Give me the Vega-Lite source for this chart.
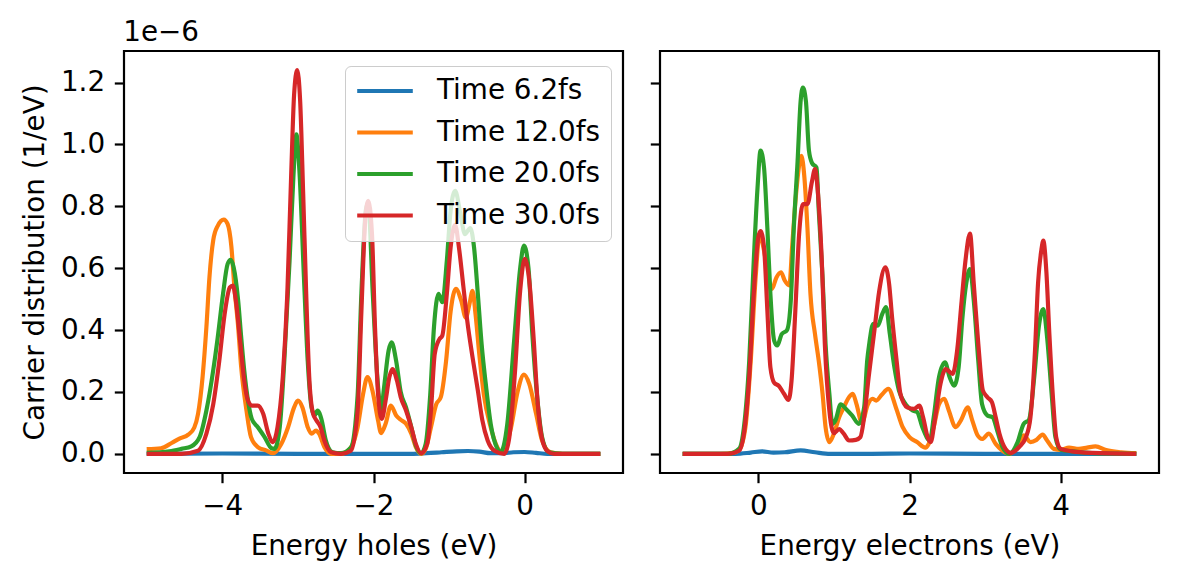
{
  "$schema": "https://vega.github.io/schema/vega-lite/v6.json",
  "background": "white",
  "padding": {"left": 20, "top": 19, "right": 0, "bottom": 0},
  "title": {"text": "1e−6", "anchor": "start", "frame": "bounds", "dx": 103, "offset": 3, "fontSize": 27.8, "fontWeight": "normal", "font": "DejaVu Sans", "color": "black"},
  "config": {
    "font": "DejaVu Sans",
    "view": {"stroke": "black", "strokeWidth": 2.2},
    "axis": {"domain": false, "grid": false, "tickColor": "black", "tickWidth": 2.2, "tickSize": 9.7, "labelFontSize": 27.8, "labelColor": "black", "labelPadding": 9.7, "titleFontSize": 27.8, "titleFontWeight": "normal", "titleColor": "black", "labelFont": "DejaVu Sans", "titleFont": "DejaVu Sans"},
    "legend": {"labelFont": "DejaVu Sans"}
  },
  "datasets": {
    "holes": [
      {"s":"Time 6.2fs","e":-5.0,"v":0.0},{"s":"Time 6.2fs","e":-4.0,"v":0.001},{"s":"Time 6.2fs","e":-3.0,"v":0.0},{"s":"Time 6.2fs","e":-2.0,"v":0.0},{"s":"Time 6.2fs","e":-1.5,"v":0.0},{"s":"Time 6.2fs","e":-1.3,"v":0.002},{"s":"Time 6.2fs","e":-1.1,"v":0.005},{"s":"Time 6.2fs","e":-0.9,"v":0.008},{"s":"Time 6.2fs","e":-0.75,"v":0.009},{"s":"Time 6.2fs","e":-0.6,"v":0.007},{"s":"Time 6.2fs","e":-0.45,"v":0.002},{"s":"Time 6.2fs","e":-0.3,"v":0.002},{"s":"Time 6.2fs","e":-0.15,"v":0.005},{"s":"Time 6.2fs","e":0.0,"v":0.006},{"s":"Time 6.2fs","e":0.15,"v":0.003},{"s":"Time 6.2fs","e":0.3,"v":0.0},{"s":"Time 6.2fs","e":1.0,"v":0.0},

      {"s":"Time 12.0fs","e":-5.0,"v":0.015},{"s":"Time 12.0fs","e":-4.81,"v":0.018},{"s":"Time 12.0fs","e":-4.67,"v":0.035},{"s":"Time 12.0fs","e":-4.56,"v":0.05},{"s":"Time 12.0fs","e":-4.45,"v":0.062},{"s":"Time 12.0fs","e":-4.37,"v":0.085},{"s":"Time 12.0fs","e":-4.32,"v":0.13},{"s":"Time 12.0fs","e":-4.26,"v":0.25},{"s":"Time 12.0fs","e":-4.21,"v":0.41},{"s":"Time 12.0fs","e":-4.17,"v":0.57},{"s":"Time 12.0fs","e":-4.12,"v":0.69},{"s":"Time 12.0fs","e":-4.06,"v":0.737},{"s":"Time 12.0fs","e":-3.98,"v":0.757},{"s":"Time 12.0fs","e":-3.93,"v":0.743},{"s":"Time 12.0fs","e":-3.88,"v":0.67},{"s":"Time 12.0fs","e":-3.84,"v":0.54},{"s":"Time 12.0fs","e":-3.79,"v":0.41},{"s":"Time 12.0fs","e":-3.75,"v":0.28},{"s":"Time 12.0fs","e":-3.68,"v":0.14},{"s":"Time 12.0fs","e":-3.62,"v":0.054},{"s":"Time 12.0fs","e":-3.53,"v":0.022},{"s":"Time 12.0fs","e":-3.42,"v":0.011},{"s":"Time 12.0fs","e":-3.33,"v":0.002},{"s":"Time 12.0fs","e":-3.22,"v":0.032},{"s":"Time 12.0fs","e":-3.13,"v":0.086},{"s":"Time 12.0fs","e":-3.05,"v":0.15},{"s":"Time 12.0fs","e":-3.0,"v":0.172},{"s":"Time 12.0fs","e":-2.94,"v":0.15},{"s":"Time 12.0fs","e":-2.87,"v":0.086},{"s":"Time 12.0fs","e":-2.82,"v":0.065},{"s":"Time 12.0fs","e":-2.76,"v":0.075},{"s":"Time 12.0fs","e":-2.72,"v":0.065},{"s":"Time 12.0fs","e":-2.65,"v":0.022},{"s":"Time 12.0fs","e":-2.56,"v":0.0},{"s":"Time 12.0fs","e":-2.43,"v":0.0},{"s":"Time 12.0fs","e":-2.3,"v":0.02},{"s":"Time 12.0fs","e":-2.21,"v":0.086},{"s":"Time 12.0fs","e":-2.14,"v":0.19},{"s":"Time 12.0fs","e":-2.08,"v":0.248},{"s":"Time 12.0fs","e":-2.01,"v":0.2},{"s":"Time 12.0fs","e":-1.94,"v":0.108},{"s":"Time 12.0fs","e":-1.9,"v":0.067},{"s":"Time 12.0fs","e":-1.84,"v":0.097},{"s":"Time 12.0fs","e":-1.77,"v":0.156},{"s":"Time 12.0fs","e":-1.7,"v":0.124},{"s":"Time 12.0fs","e":-1.64,"v":0.11},{"s":"Time 12.0fs","e":-1.57,"v":0.097},{"s":"Time 12.0fs","e":-1.5,"v":0.065},{"s":"Time 12.0fs","e":-1.44,"v":0.022},{"s":"Time 12.0fs","e":-1.37,"v":0.0},{"s":"Time 12.0fs","e":-1.31,"v":0.016},{"s":"Time 12.0fs","e":-1.24,"v":0.086},{"s":"Time 12.0fs","e":-1.17,"v":0.16},{"s":"Time 12.0fs","e":-1.11,"v":0.183},{"s":"Time 12.0fs","e":-1.04,"v":0.3},{"s":"Time 12.0fs","e":-0.98,"v":0.46},{"s":"Time 12.0fs","e":-0.91,"v":0.533},{"s":"Time 12.0fs","e":-0.84,"v":0.495},{"s":"Time 12.0fs","e":-0.78,"v":0.44},{"s":"Time 12.0fs","e":-0.73,"v":0.485},{"s":"Time 12.0fs","e":-0.69,"v":0.527},{"s":"Time 12.0fs","e":-0.65,"v":0.45},{"s":"Time 12.0fs","e":-0.6,"v":0.32},{"s":"Time 12.0fs","e":-0.54,"v":0.19},{"s":"Time 12.0fs","e":-0.45,"v":0.086},{"s":"Time 12.0fs","e":-0.36,"v":0.02},{"s":"Time 12.0fs","e":-0.3,"v":0.003},{"s":"Time 12.0fs","e":-0.18,"v":0.086},{"s":"Time 12.0fs","e":-0.095,"v":0.2},{"s":"Time 12.0fs","e":-0.01,"v":0.256},{"s":"Time 12.0fs","e":0.06,"v":0.226},{"s":"Time 12.0fs","e":0.15,"v":0.13},{"s":"Time 12.0fs","e":0.23,"v":0.043},{"s":"Time 12.0fs","e":0.34,"v":0.005},{"s":"Time 12.0fs","e":0.5,"v":0.0},{"s":"Time 12.0fs","e":1.0,"v":0.0},

      {"s":"Time 20.0fs","e":-5.0,"v":0.003},{"s":"Time 20.0fs","e":-4.7,"v":0.008},{"s":"Time 20.0fs","e":-4.54,"v":0.016},{"s":"Time 20.0fs","e":-4.41,"v":0.024},{"s":"Time 20.0fs","e":-4.3,"v":0.054},{"s":"Time 20.0fs","e":-4.21,"v":0.14},{"s":"Time 20.0fs","e":-4.12,"v":0.27},{"s":"Time 20.0fs","e":-4.06,"v":0.377},{"s":"Time 20.0fs","e":-3.99,"v":0.517},{"s":"Time 20.0fs","e":-3.93,"v":0.613},{"s":"Time 20.0fs","e":-3.89,"v":0.627},{"s":"Time 20.0fs","e":-3.85,"v":0.603},{"s":"Time 20.0fs","e":-3.79,"v":0.495},{"s":"Time 20.0fs","e":-3.75,"v":0.377},{"s":"Time 20.0fs","e":-3.71,"v":0.27},{"s":"Time 20.0fs","e":-3.66,"v":0.172},{"s":"Time 20.0fs","e":-3.61,"v":0.113},{"s":"Time 20.0fs","e":-3.53,"v":0.086},{"s":"Time 20.0fs","e":-3.44,"v":0.054},{"s":"Time 20.0fs","e":-3.35,"v":0.018},{"s":"Time 20.0fs","e":-3.31,"v":0.016},{"s":"Time 20.0fs","e":-3.24,"v":0.086},{"s":"Time 20.0fs","e":-3.18,"v":0.3},{"s":"Time 20.0fs","e":-3.11,"v":0.624},{"s":"Time 20.0fs","e":-3.06,"v":0.893},{"s":"Time 20.0fs","e":-3.02,"v":1.033},{"s":"Time 20.0fs","e":-2.98,"v":0.915},{"s":"Time 20.0fs","e":-2.92,"v":0.57},{"s":"Time 20.0fs","e":-2.87,"v":0.3},{"s":"Time 20.0fs","e":-2.82,"v":0.15},{"s":"Time 20.0fs","e":-2.78,"v":0.124},{"s":"Time 20.0fs","e":-2.74,"v":0.14},{"s":"Time 20.0fs","e":-2.69,"v":0.113},{"s":"Time 20.0fs","e":-2.63,"v":0.043},{"s":"Time 20.0fs","e":-2.54,"v":0.005},{"s":"Time 20.0fs","e":-2.43,"v":0.002},{"s":"Time 20.0fs","e":-2.3,"v":0.02},{"s":"Time 20.0fs","e":-2.21,"v":0.19},{"s":"Time 20.0fs","e":-2.16,"v":0.52},{"s":"Time 20.0fs","e":-2.1,"v":0.79},{"s":"Time 20.0fs","e":-2.07,"v":0.81},{"s":"Time 20.0fs","e":-2.01,"v":0.52},{"s":"Time 20.0fs","e":-1.95,"v":0.25},{"s":"Time 20.0fs","e":-1.9,"v":0.14},{"s":"Time 20.0fs","e":-1.86,"v":0.215},{"s":"Time 20.0fs","e":-1.8,"v":0.334},{"s":"Time 20.0fs","e":-1.76,"v":0.36},{"s":"Time 20.0fs","e":-1.7,"v":0.3},{"s":"Time 20.0fs","e":-1.64,"v":0.2},{"s":"Time 20.0fs","e":-1.57,"v":0.15},{"s":"Time 20.0fs","e":-1.5,"v":0.086},{"s":"Time 20.0fs","e":-1.44,"v":0.027},{"s":"Time 20.0fs","e":-1.37,"v":0.002},{"s":"Time 20.0fs","e":-1.31,"v":0.032},{"s":"Time 20.0fs","e":-1.25,"v":0.19},{"s":"Time 20.0fs","e":-1.2,"v":0.41},{"s":"Time 20.0fs","e":-1.14,"v":0.517},{"s":"Time 20.0fs","e":-1.09,"v":0.49},{"s":"Time 20.0fs","e":-1.03,"v":0.624},{"s":"Time 20.0fs","e":-0.98,"v":0.786},{"s":"Time 20.0fs","e":-0.92,"v":0.85},{"s":"Time 20.0fs","e":-0.85,"v":0.775},{"s":"Time 20.0fs","e":-0.79,"v":0.71},{"s":"Time 20.0fs","e":-0.72,"v":0.73},{"s":"Time 20.0fs","e":-0.67,"v":0.667},{"s":"Time 20.0fs","e":-0.62,"v":0.517},{"s":"Time 20.0fs","e":-0.57,"v":0.355},{"s":"Time 20.0fs","e":-0.51,"v":0.215},{"s":"Time 20.0fs","e":-0.45,"v":0.097},{"s":"Time 20.0fs","e":-0.36,"v":0.016},{"s":"Time 20.0fs","e":-0.32,"v":0.005},{"s":"Time 20.0fs","e":-0.23,"v":0.097},{"s":"Time 20.0fs","e":-0.14,"v":0.366},{"s":"Time 20.0fs","e":-0.06,"v":0.6},{"s":"Time 20.0fs","e":-0.01,"v":0.673},{"s":"Time 20.0fs","e":0.05,"v":0.6},{"s":"Time 20.0fs","e":0.1,"v":0.39},{"s":"Time 20.0fs","e":0.17,"v":0.17},{"s":"Time 20.0fs","e":0.23,"v":0.054},{"s":"Time 20.0fs","e":0.32,"v":0.005},{"s":"Time 20.0fs","e":0.5,"v":0.0},{"s":"Time 20.0fs","e":1.0,"v":0.0},

      {"s":"Time 30.0fs","e":-5.0,"v":0.0},{"s":"Time 30.0fs","e":-4.54,"v":0.0},{"s":"Time 30.0fs","e":-4.32,"v":0.01},{"s":"Time 30.0fs","e":-4.21,"v":0.065},{"s":"Time 30.0fs","e":-4.12,"v":0.16},{"s":"Time 30.0fs","e":-4.04,"v":0.3},{"s":"Time 30.0fs","e":-3.97,"v":0.45},{"s":"Time 30.0fs","e":-3.9,"v":0.538},{"s":"Time 30.0fs","e":-3.86,"v":0.544},{"s":"Time 30.0fs","e":-3.82,"v":0.495},{"s":"Time 30.0fs","e":-3.76,"v":0.355},{"s":"Time 30.0fs","e":-3.71,"v":0.237},{"s":"Time 30.0fs","e":-3.66,"v":0.172},{"s":"Time 30.0fs","e":-3.61,"v":0.156},{"s":"Time 30.0fs","e":-3.53,"v":0.156},{"s":"Time 30.0fs","e":-3.46,"v":0.13},{"s":"Time 30.0fs","e":-3.39,"v":0.065},{"s":"Time 30.0fs","e":-3.33,"v":0.038},{"s":"Time 30.0fs","e":-3.27,"v":0.086},{"s":"Time 30.0fs","e":-3.2,"v":0.248},{"s":"Time 30.0fs","e":-3.14,"v":0.517},{"s":"Time 30.0fs","e":-3.09,"v":0.893},{"s":"Time 30.0fs","e":-3.05,"v":1.162},{"s":"Time 30.0fs","e":-3.01,"v":1.24},{"s":"Time 30.0fs","e":-2.97,"v":1.14},{"s":"Time 30.0fs","e":-2.93,"v":0.84},{"s":"Time 30.0fs","e":-2.89,"v":0.517},{"s":"Time 30.0fs","e":-2.85,"v":0.248},{"s":"Time 30.0fs","e":-2.8,"v":0.13},{"s":"Time 30.0fs","e":-2.76,"v":0.11},{"s":"Time 30.0fs","e":-2.7,"v":0.086},{"s":"Time 30.0fs","e":-2.65,"v":0.043},{"s":"Time 30.0fs","e":-2.56,"v":0.005},{"s":"Time 30.0fs","e":-2.43,"v":0.0},{"s":"Time 30.0fs","e":-2.3,"v":0.01},{"s":"Time 30.0fs","e":-2.21,"v":0.14},{"s":"Time 30.0fs","e":-2.16,"v":0.46},{"s":"Time 30.0fs","e":-2.11,"v":0.753},{"s":"Time 30.0fs","e":-2.07,"v":0.818},{"s":"Time 30.0fs","e":-2.02,"v":0.71},{"s":"Time 30.0fs","e":-1.98,"v":0.41},{"s":"Time 30.0fs","e":-1.94,"v":0.194},{"s":"Time 30.0fs","e":-1.89,"v":0.113},{"s":"Time 30.0fs","e":-1.84,"v":0.172},{"s":"Time 30.0fs","e":-1.79,"v":0.248},{"s":"Time 30.0fs","e":-1.75,"v":0.274},{"s":"Time 30.0fs","e":-1.69,"v":0.237},{"s":"Time 30.0fs","e":-1.64,"v":0.183},{"s":"Time 30.0fs","e":-1.57,"v":0.14},{"s":"Time 30.0fs","e":-1.5,"v":0.086},{"s":"Time 30.0fs","e":-1.44,"v":0.032},{"s":"Time 30.0fs","e":-1.37,"v":0.002},{"s":"Time 30.0fs","e":-1.29,"v":0.032},{"s":"Time 30.0fs","e":-1.24,"v":0.14},{"s":"Time 30.0fs","e":-1.19,"v":0.323},{"s":"Time 30.0fs","e":-1.13,"v":0.37},{"s":"Time 30.0fs","e":-1.09,"v":0.382},{"s":"Time 30.0fs","e":-1.03,"v":0.517},{"s":"Time 30.0fs","e":-0.98,"v":0.667},{"s":"Time 30.0fs","e":-0.92,"v":0.74},{"s":"Time 30.0fs","e":-0.87,"v":0.667},{"s":"Time 30.0fs","e":-0.81,"v":0.538},{"s":"Time 30.0fs","e":-0.76,"v":0.43},{"s":"Time 30.0fs","e":-0.69,"v":0.312},{"s":"Time 30.0fs","e":-0.62,"v":0.205},{"s":"Time 30.0fs","e":-0.56,"v":0.108},{"s":"Time 30.0fs","e":-0.49,"v":0.043},{"s":"Time 30.0fs","e":-0.4,"v":0.01},{"s":"Time 30.0fs","e":-0.27,"v":0.0},{"s":"Time 30.0fs","e":-0.21,"v":0.043},{"s":"Time 30.0fs","e":-0.13,"v":0.26},{"s":"Time 30.0fs","e":-0.06,"v":0.527},{"s":"Time 30.0fs","e":0.0,"v":0.63},{"s":"Time 30.0fs","e":0.06,"v":0.56},{"s":"Time 30.0fs","e":0.12,"v":0.366},{"s":"Time 30.0fs","e":0.17,"v":0.17},{"s":"Time 30.0fs","e":0.23,"v":0.048},{"s":"Time 30.0fs","e":0.3,"v":0.009},{"s":"Time 30.0fs","e":0.39,"v":0.0},{"s":"Time 30.0fs","e":1.0,"v":0.0}
    ],
    "electrons": [
      {"s":"Time 6.2fs","e":-1.0,"v":0.0},{"s":"Time 6.2fs","e":-0.3,"v":0.0},{"s":"Time 6.2fs","e":-0.1,"v":0.004},{"s":"Time 6.2fs","e":0.05,"v":0.008},{"s":"Time 6.2fs","e":0.2,"v":0.004},{"s":"Time 6.2fs","e":0.35,"v":0.005},{"s":"Time 6.2fs","e":0.56,"v":0.011},{"s":"Time 6.2fs","e":0.75,"v":0.005},{"s":"Time 6.2fs","e":0.95,"v":0.0},{"s":"Time 6.2fs","e":1.5,"v":0.0},{"s":"Time 6.2fs","e":2.0,"v":0.001},{"s":"Time 6.2fs","e":3.0,"v":0.0},{"s":"Time 6.2fs","e":5.0,"v":0.0},

      {"s":"Time 12.0fs","e":-1.0,"v":0.0},{"s":"Time 12.0fs","e":-0.5,"v":0.0},{"s":"Time 12.0fs","e":-0.33,"v":0.003},{"s":"Time 12.0fs","e":-0.255,"v":0.012},{"s":"Time 12.0fs","e":-0.17,"v":0.086},{"s":"Time 12.0fs","e":-0.1,"v":0.3},{"s":"Time 12.0fs","e":-0.035,"v":0.57},{"s":"Time 12.0fs","e":0.018,"v":0.71},{"s":"Time 12.0fs","e":0.076,"v":0.657},{"s":"Time 12.0fs","e":0.14,"v":0.56},{"s":"Time 12.0fs","e":0.18,"v":0.533},{"s":"Time 12.0fs","e":0.24,"v":0.57},{"s":"Time 12.0fs","e":0.3,"v":0.587},{"s":"Time 12.0fs","e":0.35,"v":0.56},{"s":"Time 12.0fs","e":0.41,"v":0.544},{"s":"Time 12.0fs","e":0.45,"v":0.678},{"s":"Time 12.0fs","e":0.5,"v":0.84},{"s":"Time 12.0fs","e":0.55,"v":0.947},{"s":"Time 12.0fs","e":0.57,"v":0.963},{"s":"Time 12.0fs","e":0.61,"v":0.893},{"s":"Time 12.0fs","e":0.65,"v":0.73},{"s":"Time 12.0fs","e":0.69,"v":0.517},{"s":"Time 12.0fs","e":0.75,"v":0.387},{"s":"Time 12.0fs","e":0.8,"v":0.3},{"s":"Time 12.0fs","e":0.85,"v":0.194},{"s":"Time 12.0fs","e":0.89,"v":0.086},{"s":"Time 12.0fs","e":0.94,"v":0.038},{"s":"Time 12.0fs","e":1.0,"v":0.065},{"s":"Time 12.0fs","e":1.07,"v":0.118},{"s":"Time 12.0fs","e":1.13,"v":0.15},{"s":"Time 12.0fs","e":1.2,"v":0.183},{"s":"Time 12.0fs","e":1.25,"v":0.194},{"s":"Time 12.0fs","e":1.3,"v":0.16},{"s":"Time 12.0fs","e":1.37,"v":0.1},{"s":"Time 12.0fs","e":1.45,"v":0.16},{"s":"Time 12.0fs","e":1.51,"v":0.178},{"s":"Time 12.0fs","e":1.56,"v":0.172},{"s":"Time 12.0fs","e":1.63,"v":0.19},{"s":"Time 12.0fs","e":1.72,"v":0.21},{"s":"Time 12.0fs","e":1.82,"v":0.15},{"s":"Time 12.0fs","e":1.91,"v":0.086},{"s":"Time 12.0fs","e":2.0,"v":0.054},{"s":"Time 12.0fs","e":2.1,"v":0.038},{"s":"Time 12.0fs","e":2.21,"v":0.02},{"s":"Time 12.0fs","e":2.25,"v":0.03},{"s":"Time 12.0fs","e":2.32,"v":0.086},{"s":"Time 12.0fs","e":2.39,"v":0.16},{"s":"Time 12.0fs","e":2.46,"v":0.178},{"s":"Time 12.0fs","e":2.52,"v":0.14},{"s":"Time 12.0fs","e":2.61,"v":0.086},{"s":"Time 12.0fs","e":2.68,"v":0.108},{"s":"Time 12.0fs","e":2.77,"v":0.15},{"s":"Time 12.0fs","e":2.83,"v":0.108},{"s":"Time 12.0fs","e":2.9,"v":0.06},{"s":"Time 12.0fs","e":2.96,"v":0.048},{"s":"Time 12.0fs","e":3.05,"v":0.065},{"s":"Time 12.0fs","e":3.14,"v":0.032},{"s":"Time 12.0fs","e":3.23,"v":0.01},{"s":"Time 12.0fs","e":3.32,"v":0.0},{"s":"Time 12.0fs","e":3.45,"v":0.032},{"s":"Time 12.0fs","e":3.51,"v":0.06},{"s":"Time 12.0fs","e":3.6,"v":0.038},{"s":"Time 12.0fs","e":3.68,"v":0.045},{"s":"Time 12.0fs","e":3.76,"v":0.062},{"s":"Time 12.0fs","e":3.82,"v":0.043},{"s":"Time 12.0fs","e":3.91,"v":0.016},{"s":"Time 12.0fs","e":4.0,"v":0.013},{"s":"Time 12.0fs","e":4.11,"v":0.02},{"s":"Time 12.0fs","e":4.24,"v":0.016},{"s":"Time 12.0fs","e":4.35,"v":0.02},{"s":"Time 12.0fs","e":4.46,"v":0.024},{"s":"Time 12.0fs","e":4.6,"v":0.012},{"s":"Time 12.0fs","e":4.8,"v":0.005},{"s":"Time 12.0fs","e":5.0,"v":0.002},

      {"s":"Time 20.0fs","e":-1.0,"v":0.0},{"s":"Time 20.0fs","e":-0.4,"v":0.0},{"s":"Time 20.0fs","e":-0.255,"v":0.016},{"s":"Time 20.0fs","e":-0.19,"v":0.086},{"s":"Time 20.0fs","e":-0.12,"v":0.3},{"s":"Time 20.0fs","e":-0.06,"v":0.624},{"s":"Time 20.0fs","e":-0.01,"v":0.86},{"s":"Time 20.0fs","e":0.03,"v":0.98},{"s":"Time 20.0fs","e":0.076,"v":0.925},{"s":"Time 20.0fs","e":0.12,"v":0.73},{"s":"Time 20.0fs","e":0.16,"v":0.517},{"s":"Time 20.0fs","e":0.21,"v":0.366},{"s":"Time 20.0fs","e":0.25,"v":0.35},{"s":"Time 20.0fs","e":0.31,"v":0.387},{"s":"Time 20.0fs","e":0.38,"v":0.4},{"s":"Time 20.0fs","e":0.43,"v":0.495},{"s":"Time 20.0fs","e":0.47,"v":0.73},{"s":"Time 20.0fs","e":0.52,"v":0.947},{"s":"Time 20.0fs","e":0.56,"v":1.14},{"s":"Time 20.0fs","e":0.59,"v":1.184},{"s":"Time 20.0fs","e":0.63,"v":1.14},{"s":"Time 20.0fs","e":0.67,"v":0.98},{"s":"Time 20.0fs","e":0.71,"v":0.94},{"s":"Time 20.0fs","e":0.77,"v":0.925},{"s":"Time 20.0fs","e":0.8,"v":0.786},{"s":"Time 20.0fs","e":0.85,"v":0.57},{"s":"Time 20.0fs","e":0.89,"v":0.355},{"s":"Time 20.0fs","e":0.94,"v":0.194},{"s":"Time 20.0fs","e":0.98,"v":0.097},{"s":"Time 20.0fs","e":1.02,"v":0.108},{"s":"Time 20.0fs","e":1.09,"v":0.16},{"s":"Time 20.0fs","e":1.16,"v":0.145},{"s":"Time 20.0fs","e":1.24,"v":0.124},{"s":"Time 20.0fs","e":1.33,"v":0.097},{"s":"Time 20.0fs","e":1.4,"v":0.15},{"s":"Time 20.0fs","e":1.44,"v":0.3},{"s":"Time 20.0fs","e":1.47,"v":0.36},{"s":"Time 20.0fs","e":1.52,"v":0.42},{"s":"Time 20.0fs","e":1.58,"v":0.414},{"s":"Time 20.0fs","e":1.64,"v":0.452},{"s":"Time 20.0fs","e":1.69,"v":0.474},{"s":"Time 20.0fs","e":1.74,"v":0.387},{"s":"Time 20.0fs","e":1.8,"v":0.28},{"s":"Time 20.0fs","e":1.86,"v":0.205},{"s":"Time 20.0fs","e":1.95,"v":0.16},{"s":"Time 20.0fs","e":2.04,"v":0.14},{"s":"Time 20.0fs","e":2.1,"v":0.135},{"s":"Time 20.0fs","e":2.17,"v":0.086},{"s":"Time 20.0fs","e":2.27,"v":0.043},{"s":"Time 20.0fs","e":2.32,"v":0.118},{"s":"Time 20.0fs","e":2.39,"v":0.248},{"s":"Time 20.0fs","e":2.47,"v":0.296},{"s":"Time 20.0fs","e":2.53,"v":0.248},{"s":"Time 20.0fs","e":2.59,"v":0.22},{"s":"Time 20.0fs","e":2.65,"v":0.28},{"s":"Time 20.0fs","e":2.7,"v":0.44},{"s":"Time 20.0fs","e":2.75,"v":0.55},{"s":"Time 20.0fs","e":2.8,"v":0.597},{"s":"Time 20.0fs","e":2.85,"v":0.495},{"s":"Time 20.0fs","e":2.91,"v":0.3},{"s":"Time 20.0fs","e":2.96,"v":0.16},{"s":"Time 20.0fs","e":3.03,"v":0.124},{"s":"Time 20.0fs","e":3.1,"v":0.118},{"s":"Time 20.0fs","e":3.16,"v":0.075},{"s":"Time 20.0fs","e":3.23,"v":0.022},{"s":"Time 20.0fs","e":3.32,"v":0.0},{"s":"Time 20.0fs","e":3.43,"v":0.038},{"s":"Time 20.0fs","e":3.51,"v":0.097},{"s":"Time 20.0fs","e":3.58,"v":0.11},{"s":"Time 20.0fs","e":3.65,"v":0.248},{"s":"Time 20.0fs","e":3.71,"v":0.41},{"s":"Time 20.0fs","e":3.77,"v":0.468},{"s":"Time 20.0fs","e":3.82,"v":0.377},{"s":"Time 20.0fs","e":3.88,"v":0.194},{"s":"Time 20.0fs","e":3.93,"v":0.054},{"s":"Time 20.0fs","e":4.0,"v":0.013},{"s":"Time 20.0fs","e":4.15,"v":0.008},{"s":"Time 20.0fs","e":4.42,"v":0.002},{"s":"Time 20.0fs","e":5.0,"v":0.0},

      {"s":"Time 30.0fs","e":-1.0,"v":0.0},{"s":"Time 30.0fs","e":-0.4,"v":0.0},{"s":"Time 30.0fs","e":-0.255,"v":0.01},{"s":"Time 30.0fs","e":-0.19,"v":0.065},{"s":"Time 30.0fs","e":-0.12,"v":0.248},{"s":"Time 30.0fs","e":-0.06,"v":0.517},{"s":"Time 30.0fs","e":0.0,"v":0.7},{"s":"Time 30.0fs","e":0.03,"v":0.72},{"s":"Time 30.0fs","e":0.076,"v":0.667},{"s":"Time 30.0fs","e":0.12,"v":0.463},{"s":"Time 30.0fs","e":0.16,"v":0.28},{"s":"Time 30.0fs","e":0.21,"v":0.23},{"s":"Time 30.0fs","e":0.27,"v":0.22},{"s":"Time 30.0fs","e":0.34,"v":0.194},{"s":"Time 30.0fs","e":0.4,"v":0.174},{"s":"Time 30.0fs","e":0.44,"v":0.237},{"s":"Time 30.0fs","e":0.49,"v":0.463},{"s":"Time 30.0fs","e":0.54,"v":0.71},{"s":"Time 30.0fs","e":0.59,"v":0.807},{"s":"Time 30.0fs","e":0.65,"v":0.807},{"s":"Time 30.0fs","e":0.71,"v":0.88},{"s":"Time 30.0fs","e":0.75,"v":0.92},{"s":"Time 30.0fs","e":0.79,"v":0.84},{"s":"Time 30.0fs","e":0.84,"v":0.624},{"s":"Time 30.0fs","e":0.88,"v":0.355},{"s":"Time 30.0fs","e":0.94,"v":0.14},{"s":"Time 30.0fs","e":1.0,"v":0.067},{"s":"Time 30.0fs","e":1.07,"v":0.08},{"s":"Time 30.0fs","e":1.13,"v":0.065},{"s":"Time 30.0fs","e":1.2,"v":0.043},{"s":"Time 30.0fs","e":1.29,"v":0.045},{"s":"Time 30.0fs","e":1.35,"v":0.054},{"s":"Time 30.0fs","e":1.4,"v":0.118},{"s":"Time 30.0fs","e":1.46,"v":0.248},{"s":"Time 30.0fs","e":1.53,"v":0.387},{"s":"Time 30.0fs","e":1.6,"v":0.527},{"s":"Time 30.0fs","e":1.68,"v":0.603},{"s":"Time 30.0fs","e":1.73,"v":0.55},{"s":"Time 30.0fs","e":1.77,"v":0.44},{"s":"Time 30.0fs","e":1.83,"v":0.3},{"s":"Time 30.0fs","e":1.88,"v":0.194},{"s":"Time 30.0fs","e":1.97,"v":0.15},{"s":"Time 30.0fs","e":2.06,"v":0.145},{"s":"Time 30.0fs","e":2.13,"v":0.156},{"s":"Time 30.0fs","e":2.18,"v":0.118},{"s":"Time 30.0fs","e":2.24,"v":0.054},{"s":"Time 30.0fs","e":2.28,"v":0.038},{"s":"Time 30.0fs","e":2.34,"v":0.118},{"s":"Time 30.0fs","e":2.41,"v":0.226},{"s":"Time 30.0fs","e":2.48,"v":0.274},{"s":"Time 30.0fs","e":2.57,"v":0.258},{"s":"Time 30.0fs","e":2.63,"v":0.334},{"s":"Time 30.0fs","e":2.69,"v":0.495},{"s":"Time 30.0fs","e":2.74,"v":0.624},{"s":"Time 30.0fs","e":2.8,"v":0.712},{"s":"Time 30.0fs","e":2.85,"v":0.55},{"s":"Time 30.0fs","e":2.91,"v":0.355},{"s":"Time 30.0fs","e":2.97,"v":0.205},{"s":"Time 30.0fs","e":3.03,"v":0.183},{"s":"Time 30.0fs","e":3.09,"v":0.167},{"s":"Time 30.0fs","e":3.14,"v":0.118},{"s":"Time 30.0fs","e":3.19,"v":0.065},{"s":"Time 30.0fs","e":3.27,"v":0.016},{"s":"Time 30.0fs","e":3.34,"v":0.003},{"s":"Time 30.0fs","e":3.45,"v":0.022},{"s":"Time 30.0fs","e":3.54,"v":0.054},{"s":"Time 30.0fs","e":3.6,"v":0.118},{"s":"Time 30.0fs","e":3.66,"v":0.334},{"s":"Time 30.0fs","e":3.7,"v":0.55},{"s":"Time 30.0fs","e":3.745,"v":0.66},{"s":"Time 30.0fs","e":3.77,"v":0.689},{"s":"Time 30.0fs","e":3.81,"v":0.59},{"s":"Time 30.0fs","e":3.85,"v":0.387},{"s":"Time 30.0fs","e":3.9,"v":0.172},{"s":"Time 30.0fs","e":3.94,"v":0.054},{"s":"Time 30.0fs","e":4.0,"v":0.016},{"s":"Time 30.0fs","e":4.15,"v":0.008},{"s":"Time 30.0fs","e":4.42,"v":0.003},{"s":"Time 30.0fs","e":5.0,"v":0.0}
    ]
  },
  "hconcat": [
    {
      "width": 499, "height": 422,
      "data": {"name": "holes"},
      "mark": {"type": "line", "strokeWidth": 4.17, "interpolate": "monotone"},
      "encoding": {
        "x": {"field": "e", "type": "quantitative", "scale": {"domain": [-5.3, 1.3], "nice": false, "zero": false}, "axis": {"values": [-4, -2, 0], "format": "d", "title": "Energy holes (eV)", "titlePadding": 12}},
        "y": {"field": "v", "type": "quantitative", "scale": {"domain": [-0.062, 1.302], "nice": false, "zero": false}, "axis": {"values": [0, 0.2, 0.4, 0.6, 0.8, 1.0, 1.2], "format": ".1f", "title": "Carrier distribution (1/eV)", "titlePadding": 11}},
        "color": {"field": "s", "type": "nominal", "sort": null,
          "scale": {"domain": ["Time 6.2fs", "Time 12.0fs", "Time 20.0fs", "Time 30.0fs"], "range": ["#1f77b4", "#ff7f0e", "#2ca02c", "#d62728"]},
          "legend": {"orient": "none", "legendX": 221, "legendY": 15, "title": null, "symbolType": "stroke", "symbolSize": 3091, "symbolStrokeWidth": 4.17, "labelFontSize": 27.8, "labelColor": "black", "labelOffset": 22, "padding": 10, "clipHeight": 30, "rowPadding": 11.5, "fillColor": "rgba(255,255,255,0.8)", "strokeColor": "#cccccc", "cornerRadius": 5.6, "labelLimit": 0}}
      }
    },
    {
      "width": 499, "height": 422,
      "data": {"name": "electrons"},
      "mark": {"type": "line", "strokeWidth": 4.17, "interpolate": "monotone"},
      "encoding": {
        "x": {"field": "e", "type": "quantitative", "scale": {"domain": [-1.3, 5.3], "nice": false, "zero": false}, "axis": {"values": [0, 2, 4], "format": "d", "title": "Energy electrons (eV)", "titlePadding": 12}},
        "y": {"field": "v", "type": "quantitative", "scale": {"domain": [-0.062, 1.302], "nice": false, "zero": false}, "axis": {"values": [0, 0.2, 0.4, 0.6, 0.8, 1.0, 1.2], "labels": false, "title": null}},
        "color": {"field": "s", "type": "nominal", "sort": null,
          "scale": {"domain": ["Time 6.2fs", "Time 12.0fs", "Time 20.0fs", "Time 30.0fs"], "range": ["#1f77b4", "#ff7f0e", "#2ca02c", "#d62728"]},
          "legend": null}
      }
    }
  ],
  "spacing": 23,
  "resolve": {"legend": {"color": "independent"}}
}
